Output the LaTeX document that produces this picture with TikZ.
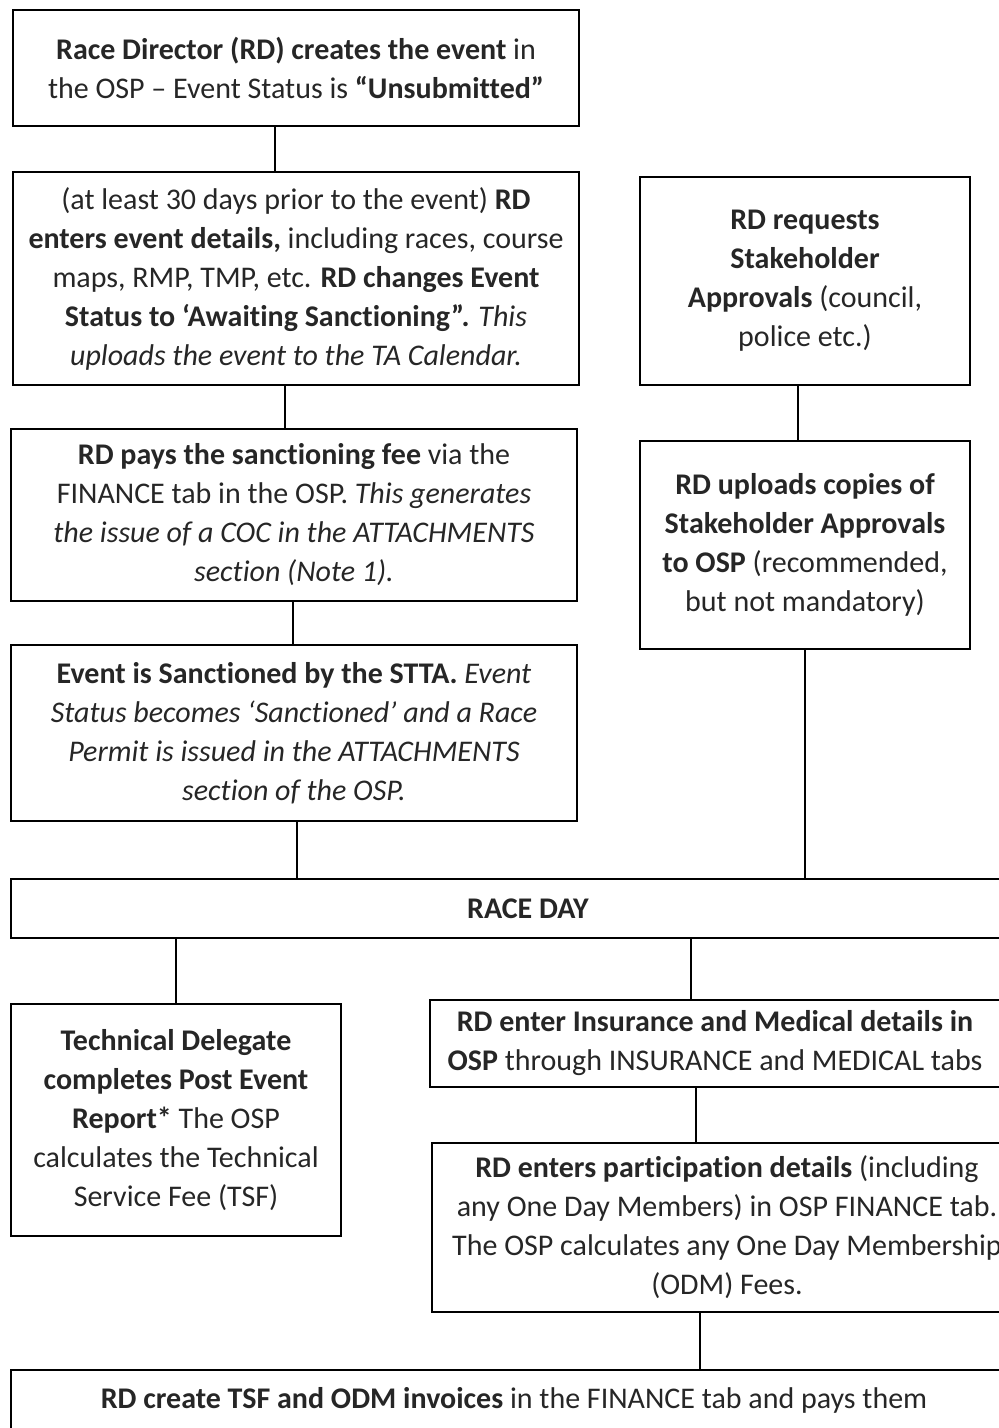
\documentclass[tikz,border=0pt]{standalone}
\usepackage{fontspec}
\setmainfont{Carlito}[Ligatures=NoCommon]
\usepackage{tikz}
\tikzstyle{stepbox}=[draw=black,line width=1.6pt,align=center,
                     inner sep=0pt,text=black!85,
                     font=\fontsize{30}{39}\selectfont]
\tikzstyle{link}=[draw=black,line width=1.3pt]

\begin{document}
\begin{tikzpicture}[x=1pt,y=-1pt]
    \useasboundingbox (0,0) rectangle (999,1428);
    \clip (0,0) rectangle (999,1428);
    % left column
    \node (create) at (296,68) [stepbox,minimum width=566pt,minimum height=116pt]
      {\textbf{Race Director (RD) creates the event} in\\
       the OSP -- Event Status is \textbf{“Unsubmitted”}};
    \node (details) at (296,278.5) [stepbox,minimum width=566pt,minimum height=213pt]
      {(at least 30 days prior to the event) \textbf{RD}\\
       \textbf{enters event details,} including races, course\\
       maps, RMP, TMP, etc. \textbf{RD changes Event}\\
       \textbf{Status to ‘Awaiting Sanctioning”.} \textit{This}\\
       \textit{uploads the event to the TA Calendar.}};
    \node (fee) at (294,515) [stepbox,minimum width=566pt,minimum height=172pt]
      {\textbf{RD pays the sanctioning fee} via the\\
       FINANCE tab in the OSP. \textit{This generates}\\
       \textit{the issue of a COC in the ATTACHMENTS}\\
       \textit{section (Note 1).}};
    \node (sanction) at (294,733) [stepbox,minimum width=566pt,minimum height=176pt]
      {\textbf{Event is Sanctioned by the STTA.} \textit{Event}\\
       \textit{Status becomes ‘Sanctioned’ and a Race}\\
       \textit{Permit is issued in the ATTACHMENTS}\\
       \textit{section of the OSP.}};
    % right column
    \node (request) at (805,281) [stepbox,minimum width=330pt,minimum height=208pt]
      {\textbf{RD requests}\\
       \textbf{Stakeholder}\\
       \textbf{Approvals} (council,\\
       police etc.)};
    \node (upload) at (805,545) [stepbox,minimum width=330pt,minimum height=208pt]
      {\textbf{RD uploads copies of}\\
       \textbf{Stakeholder Approvals}\\
       \textbf{to OSP} (recommended,\\
       but not mandatory)};
    % race day and after
    \node (raceday) at (528,908.5) [stepbox,minimum width=1034pt,minimum height=59pt]
      {\textbf{RACE DAY}};
    \node (tdreport) at (176,1120) [stepbox,minimum width=330pt,minimum height=232pt]
      {\textbf{Technical Delegate}\\
       \textbf{completes Post Event}\\
       \textbf{Report*} The OSP\\
       calculates the Technical\\
       Service Fee (TSF)};
    \node (insure) at (715,1043.5) [stepbox,minimum width=570pt,minimum height=87pt]
      {\textbf{RD enter Insurance and Medical details in}\\
       \textbf{OSP} through INSURANCE and MEDICAL tabs};
    \node (particip) at (727,1227.5) [stepbox,minimum width=590pt,minimum height=169pt]
      {\textbf{RD enters participation details} (including\\
       any One Day Members) in OSP FINANCE tab.\\
       The OSP calculates any One Day Membership\\
       (ODM) Fees.};
    \node (invoice) at (514,1400) [stepbox,minimum width=1006pt,minimum height=60pt]
      {\textbf{RD create TSF and ODM invoices} in the FINANCE tab and pays them};
    % connectors
    \draw[link] ([xshift=-21pt]create.south) -- ([xshift=-21pt]create.south |- details.north);
    \draw[link] ([xshift=-11pt]details.south) -- ([xshift=-11pt]details.south |- fee.north);
    \draw[link] ([xshift=-1pt]fee.south) -- ([xshift=-1pt]fee.south |- sanction.north);
    \draw[link] ([xshift=3pt]sanction.south) -- ([xshift=3pt]sanction.south |- raceday.north);
    \draw[link] ([xshift=-7pt]request.south) -- ([xshift=-7pt]request.south |- upload.north);
    \draw[link] (upload.south) -- (upload.south |- raceday.north);
    \draw[link] (tdreport.north) -- (tdreport.north |- raceday.south);
    \draw[link] ([xshift=-24pt]insure.north) -- ([xshift=-24pt]insure.north |- raceday.south);
    \draw[link] ([xshift=-19pt]insure.south) -- ([xshift=-19pt]insure.south |- particip.north);
    \draw[link] ([xshift=-27pt]particip.south) -- ([xshift=-27pt]particip.south |- invoice.north);
\end{tikzpicture}
\end{document}
